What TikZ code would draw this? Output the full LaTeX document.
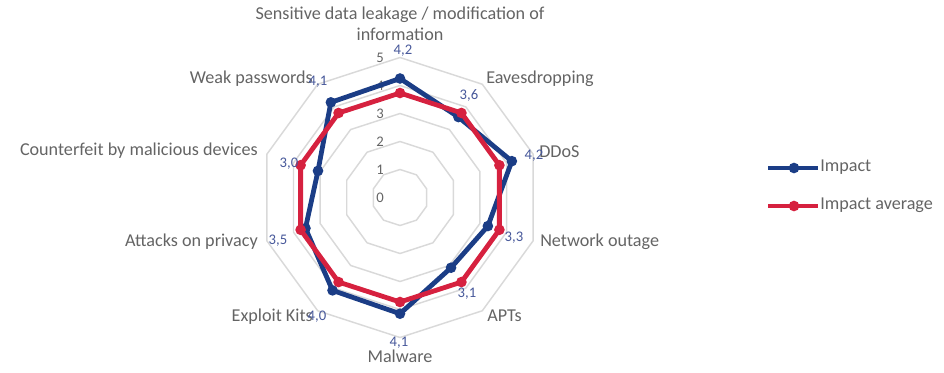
\documentclass[tikz,border=0pt]{standalone}
\usepackage{fontspec}
\setmainfont{Carlito}
\usetikzlibrary{calc}
\definecolor{impactblue}{HTML}{1B3D86}
\definecolor{impactred}{HTML}{D6213F}
\definecolor{gridgray}{HTML}{D9D9D9}
\definecolor{labelgray}{HTML}{646464}
\definecolor{valueblue}{HTML}{47589A}
\tikzset{
  gridline/.style={draw=gridgray, line width=1.1pt, line join=round},
  catlabel/.style={inner sep=0pt, font=\fontsize{13.6}{15}\selectfont, text=labelgray, text height=0.7em, text depth=0.2em},
  vallabel/.style={inner sep=0pt, font=\fontsize{11}{13}\selectfont, text=valueblue, text height=0.7em, text depth=0.05em},
  ticklabel/.style={inner sep=0pt, font=\fontsize{11}{13}\selectfont, text=labelgray, text height=0.7em, text depth=0.05em},
  seriesline/.style={line width=3.6pt, line join=round, line cap=round},
  bluemark/.style={circle, fill=impactblue, inner sep=0pt, minimum size=8pt},
  redmark/.style={circle, fill=impactred, inner sep=0pt, minimum size=8pt},
}
\begin{document}
\begin{tikzpicture}[x=0.75pt, y=-0.75pt]
\useasboundingbox (0,0) rectangle (944,372);
\coordinate (O) at (400,197.5);

\begin{scope}[shift={(O)}, y=0.75pt]
  % concentric decagons for levels 1..5
  \foreach \k in {1,...,5} {
    \pgfmathsetmacro{\rr}{28*\k}
    \draw[gridline] (90:\rr) -- (54:\rr) -- (18:\rr) -- (-18:\rr) -- (-54:\rr)
      -- (-90:\rr) -- (-126:\rr) -- (-162:\rr) -- (162:\rr) -- (126:\rr) -- cycle;
  }
  % scale values along the top axis
  \foreach \k in {0,...,5} {
    \node[ticklabel] (tick\k) at (-20, 28*\k-1) {\k};
  }
  % data points: Impact (blue) and Impact average (red)
  \foreach \v [count=\i from 0] in {4.25,3.55,4.2,3.3,3.1,4.15,4.1,3.55,3.08,4.2} {
    \pgfmathsetmacro{\ang}{90-36*\i}
    \pgfmathsetmacro{\rad}{28*\v}
    \coordinate (b\i) at (\ang:\rad);
  }
  \foreach \i in {0,...,9} {
    \pgfmathsetmacro{\ang}{90-36*\i}
    \coordinate (r\i) at (\ang:104.5);
  }
\end{scope}

% Impact series
\draw[seriesline, impactblue] (b0) -- (b1) -- (b2) -- (b3) -- (b4) -- (b5) -- (b6) -- (b7) -- (b8) -- (b9) -- cycle;
\foreach \i in {0,...,9} { \node[bluemark] (bm\i) at (b\i) {}; }
% Impact average series
\draw[seriesline, impactred] (r0) -- (r1) -- (r2) -- (r3) -- (r4) -- (r5) -- (r6) -- (r7) -- (r8) -- (r9) -- cycle;
\foreach \i in {0,...,9} { \node[redmark] (rm\i) at (r\i) {}; }

% category labels
\node[catlabel, anchor=center] (c0a) at (400,16) {Sensitive data leakage / modification of};
\node[catlabel, anchor=center] (c0b) at (400,37) {information};
\node[catlabel, anchor=west] (c1) at (486,80) {Eavesdropping};
\node[catlabel, anchor=west] (c2) at (539,154) {DDoS};
\node[catlabel, anchor=west] (c3) at (540,243) {Network outage};
\node[catlabel, anchor=west] (c4) at (487,318) {APTs};
\node[catlabel, anchor=center] (c5) at (400,359) {Malware};
\node[catlabel, anchor=east] (c6) at (313,318) {Exploit Kits};
\node[catlabel, anchor=east] (c7) at (258,243) {Attacks on privacy};
\node[catlabel, anchor=east] (c8) at (258,152) {Counterfeit by malicious devices};
\node[catlabel, anchor=east] (c9) at (313,80) {Weak passwords};

% value labels of the Impact series
\node[vallabel] (v0) at (403,50) {4,2};
\node[vallabel] (v1) at (469,95) {3,6};
\node[vallabel] (v2) at (534,155) {4,2};
\node[vallabel] (v3) at (514,237) {3,3};
\node[vallabel] (v4) at (467,293) {3,1};
\node[vallabel] (v5) at (399,342) {4,1};
\node[vallabel] (v6) at (317,316) {4,0};
\node[vallabel] (v7) at (278,240) {3,5};
\node[vallabel] (v8) at (289,163) {3,0};
\node[vallabel] (v9) at (318,81) {4,1};

% legend
\coordinate (lb1) at (768,168);
\coordinate (lb2) at (818,168);
\coordinate (lr1) at (768,206);
\coordinate (lr2) at (818,206);
\draw[seriesline, impactblue, line cap=butt] (lb1) -- (lb2);
\node[bluemark] (lbm) at ($(lb1)!0.52!(lb2)$) {};
\draw[seriesline, impactred, line cap=butt] (lr1) -- (lr2);
\node[redmark] (lrm) at ($(lr1)!0.52!(lr2)$) {};
\node[catlabel, anchor=west] (lt1) at (820,168) {Impact};
\node[catlabel, anchor=west] (lt2) at (820,206) {Impact average};
\end{tikzpicture}
\end{document}
